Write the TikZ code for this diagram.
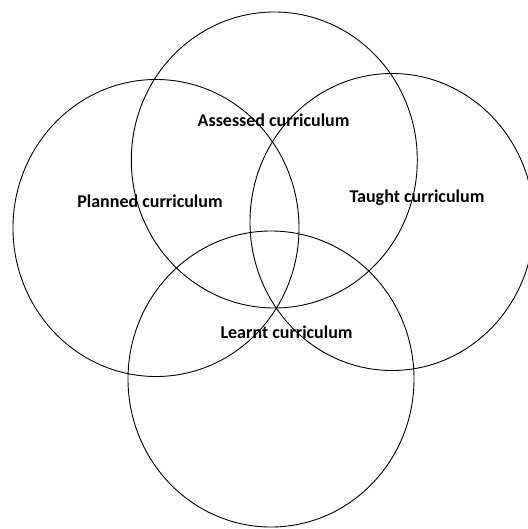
\documentclass[tikz,border=0pt]{standalone}
\usepackage{fontspec}
\setmainfont{Carlito}
\begin{document}
\begin{tikzpicture}[x=1pt,y=-1pt,
  ring/.style={draw=black,line width=0.9pt},
  lab/.style={font=\fontsize{18}{21}\selectfont\bfseries,inner sep=0pt}]
\useasboundingbox (0,0) rectangle (527,529);
\draw[ring] (274.3,160) ellipse [x radius=143, y radius=148];
\draw[ring] (156,228) ellipse [x radius=143, y radius=148.5];
\draw[ring] (392,222) ellipse [x radius=142, y radius=148.5];
\draw[ring] (271,379) ellipse [x radius=143, y radius=148];
\node[lab] (assessed) at (273.6,120) {Assessed curriculum};
\node[lab] (planned) at (150,201.7) {Planned curriculum};
\node[lab] (taught) at (417,197.6) {Taught curriculum};
\node[lab] (learnt) at (286.6,332) {Learnt curriculum};
\end{tikzpicture}
\end{document}
